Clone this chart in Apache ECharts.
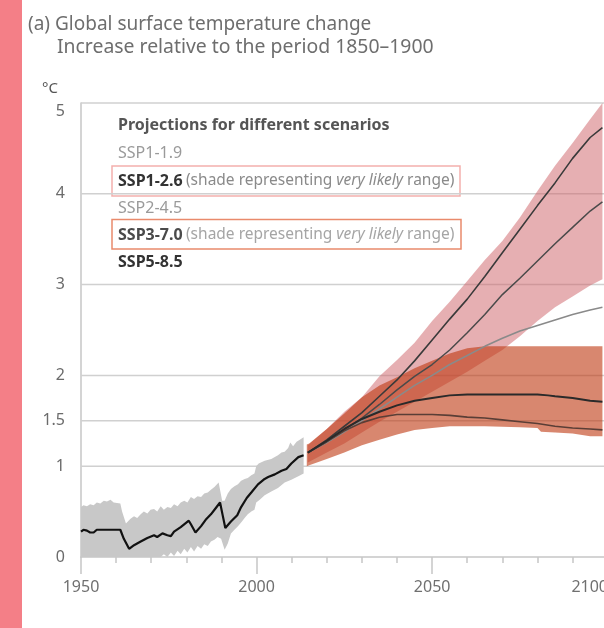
<!DOCTYPE html>
<html><head><meta charset="utf-8">
<script src="https://cdn.jsdelivr.net/npm/echarts@6/dist/echarts.min.js"></script>
<style>html,body{margin:0;padding:0;background:#fff;overflow:hidden;width:604px;height:628px}#c{width:611px;height:628px}</style>
</head><body><div id="c"></div>
<script>
// ---------- data ----------
const xMin = 1950, xMax = 2100;
const xLabelYears = [1950, 2000, 2050, 2100];
const xMinorTickYears = [1950, 1960, 1970, 1980, 1990, 2000, 2010, 2020, 2030, 2040, 2050, 2060, 2070, 2080, 2090, 2100];
const yLabelValues = [0, 1, 1.5, 2, 3, 4, 5];
const gridValues = [1, 1.5, 2, 3, 4, 5];

// historical (observed) line and shaded range
const histLine = [[1950,0.28],[1950.7,0.30],[1951.7,0.29],[1952.6,0.27],[1953.6,0.27],[1954.5,0.30],[1955.5,0.30],[1957.4,0.30],[1959.3,0.30],[1961.2,0.30],[1962.2,0.20],[1963.7,0.09],[1965.1,0.13],[1967.0,0.17],[1968.9,0.21],[1970.8,0.24],[1971.7,0.22],[1973.2,0.26],[1974.6,0.24],[1975.6,0.23],[1976.5,0.28],[1978.4,0.33],[1980.7,0.40],[1981.3,0.36],[1982.6,0.27],[1984.2,0.34],[1985.5,0.41],[1987.0,0.47],[1988.4,0.54],[1989.6,0.60],[1990.4,0.45],[1991.1,0.32],[1992.7,0.39],[1994.5,0.46],[1995.6,0.55],[1997.2,0.65],[1998.5,0.71],[2000.4,0.80],[2002.3,0.86],[2003.3,0.88],[2005.2,0.91],[2007.1,0.95],[2008.5,0.97],[2009.9,1.03],[2011.9,1.10],[2013.4,1.12]];
const histUpper = [[1950,0.55],[1950.7,0.57],[1951.7,0.56],[1952.6,0.58],[1953.6,0.57],[1954.5,0.60],[1955.5,0.59],[1956.5,0.62],[1957.4,0.61],[1958.4,0.63],[1959.3,0.60],[1961.2,0.59],[1961.7,0.50],[1962.8,0.37],[1964.1,0.42],[1965.1,0.45],[1966.0,0.43],[1967.0,0.47],[1967.9,0.50],[1968.9,0.48],[1969.8,0.52],[1970.8,0.53],[1971.7,0.50],[1972.7,0.56],[1973.6,0.52],[1974.6,0.55],[1975.6,0.54],[1976.5,0.58],[1977.5,0.56],[1978.4,0.60],[1979.4,0.62],[1980.3,0.60],[1981.3,0.66],[1982.2,0.64],[1983.2,0.67],[1984.2,0.66],[1985.1,0.70],[1986.1,0.71],[1987.0,0.74],[1988.0,0.77],[1989.2,0.82],[1990.2,0.62],[1990.9,0.62],[1991.8,0.70],[1992.7,0.75],[1993.7,0.78],[1994.7,0.80],[1995.6,0.84],[1996.6,0.86],[1997.5,0.87],[1998.5,0.90],[1999.4,0.92],[1999.9,1.00],[2000.6,1.03],[2002.3,1.06],[2004.2,1.08],[2005.2,1.10],[2006.1,1.12],[2007.1,1.15],[2008.0,1.16],[2009.0,1.20],[2009.6,1.26],[2010.4,1.22],[2011.4,1.27],[2012.3,1.29],[2013.4,1.32]];
const histLower = [[1950,0],[1972.7,0],[1973.6,0.03],[1974.6,0],[1975.6,0.05],[1976.5,0.01],[1977.5,0.07],[1978.4,0.03],[1979.4,0.09],[1980.3,0.05],[1981.3,0.11],[1982.2,0.06],[1983.2,0.12],[1984.2,0.09],[1985.1,0.14],[1986.1,0.12],[1987.0,0.17],[1988.0,0.19],[1988.9,0.22],[1989.9,0.20],[1990.9,0.08],[1991.8,0.15],[1992.7,0.26],[1993.7,0.30],[1994.7,0.34],[1995.6,0.38],[1996.6,0.43],[1997.5,0.47],[1998.5,0.50],[1999.4,0.52],[1999.9,0.60],[2000.9,0.63],[2002.3,0.68],[2004.2,0.72],[2006.1,0.76],[2008.0,0.82],[2009.9,0.85],[2011.9,0.89],[2013.4,0.92]];

// projections: very likely ranges
const pinkUpper = [[2014.6,1.23],[2020,1.41],[2025,1.60],[2030,1.76],[2035,1.99],[2040,2.17],[2045,2.36],[2050,2.60],[2055,2.81],[2060,3.04],[2065,3.27],[2070,3.48],[2075,3.74],[2080,4.03],[2085,4.31],[2090,4.56],[2095,4.82],[2098.5,5.0]];
const pinkLower = [[2014.6,1.04],[2020,1.15],[2025,1.25],[2030,1.37],[2035,1.49],[2040,1.60],[2045,1.71],[2050,1.82],[2055,1.93],[2060,2.04],[2065,2.16],[2070,2.28],[2075,2.43],[2080,2.60],[2085,2.75],[2090,2.87],[2095,2.99],[2098.5,3.06]];
const orangeUpper = [[2014.3,1.24],[2015,1.25],[2020,1.41],[2025,1.58],[2030,1.76],[2035,1.89],[2040,1.98],[2045,2.08],[2050,2.16],[2055,2.24],[2060,2.30],[2065,2.32],[2098.5,2.32]];
const orangeLower = [[2014.3,1.00],[2015,1.01],[2020,1.08],[2025,1.15],[2030,1.23],[2035,1.29],[2040,1.35],[2045,1.40],[2050,1.42],[2055,1.44],[2065,1.44],[2075,1.43],[2080,1.42],[2081,1.38],[2085,1.37],[2090,1.36],[2095,1.33],[2098.5,1.33]];

// projections: central lines
const ssp585 = [[2014.6,1.15],[2020,1.29],[2025,1.44],[2030,1.59],[2035,1.77],[2040,1.95],[2045,2.16],[2050,2.39],[2055,2.62],[2060,2.84],[2065,3.09],[2070,3.35],[2075,3.61],[2080,3.87],[2085,4.12],[2090,4.39],[2095,4.62],[2098.5,4.73]];
const ssp370 = [[2014.6,1.15],[2020,1.27],[2025,1.40],[2030,1.53],[2035,1.68],[2040,1.84],[2045,1.99],[2050,2.12],[2055,2.28],[2060,2.47],[2065,2.67],[2070,2.89],[2075,3.07],[2080,3.26],[2085,3.45],[2090,3.63],[2095,3.81],[2098.5,3.91]];
const ssp245 = [[2014.6,1.15],[2020,1.26],[2025,1.38],[2030,1.50],[2035,1.63],[2040,1.76],[2045,1.89],[2050,2.00],[2055,2.12],[2060,2.22],[2065,2.32],[2070,2.41],[2075,2.49],[2080,2.55],[2085,2.61],[2090,2.67],[2095,2.72],[2098.5,2.75]];
const ssp126 = [[2014.6,1.15],[2020,1.28],[2025,1.41],[2030,1.52],[2035,1.60],[2040,1.67],[2045,1.72],[2050,1.75],[2055,1.78],[2060,1.79],[2070,1.79],[2080,1.79],[2083,1.78],[2085,1.77],[2090,1.75],[2095,1.72],[2098.5,1.71]];
const ssp119 = [[2014.6,1.15],[2020,1.27],[2025,1.39],[2030,1.48],[2035,1.54],[2040,1.57],[2050,1.57],[2055,1.56],[2060,1.54],[2065,1.53],[2070,1.51],[2075,1.49],[2080,1.47],[2085,1.44],[2090,1.42],[2095,1.41],[2098.5,1.40]];

// ---------- chart ----------
const FONT = '"Noto Sans", "DejaVu Sans", sans-serif';
const chart = echarts.init(document.getElementById('c'), null, {renderer: 'canvas'});

function band(upper, lower, color, z) {
  return {
    type: 'custom', z: z, silent: true, data: upper, encode: {x: 0, y: 1},
    renderItem: function (params, api) {
      if (params.dataIndex !== 0) return null;
      const pts = [];
      for (let i = 0; i < upper.length; i++) pts.push(api.coord(upper[i]));
      for (let i = lower.length - 1; i >= 0; i--) pts.push(api.coord(lower[i]));
      return {type: 'polygon', shape: {points: pts}, style: {fill: color}};
    }
  };
}
function line(data, color, width, z) {
  return {type: 'line', data: data, z: z, silent: true, symbol: 'none', showSymbol: false,
    lineStyle: {color: color, width: width}};
}

const option = {
  animation: false,
  backgroundColor: '#ffffff',
  grid: {left: 81, right: 0, top: 103, bottom: 71, containLabel: false},
  xAxis: [{
    type: 'value', min: xMin, max: xMax,
    axisLine: {show: true, lineStyle: {color: '#c6c6c6', width: 1.5}},
    axisTick: {show: true, customValues: xLabelYears, length: 17, lineStyle: {color: '#c6c6c6', width: 1.5}},
    axisLabel: {customValues: xLabelYears, margin: 22, color: '#707070', fontSize: 16, fontFamily: FONT,
      formatter: function (v) { return v === 2100 ? '{r|' + v + '}' : String(v); },
      rich: {r: {padding: [0, 36, 0, 0], color: '#707070', fontSize: 16, fontFamily: FONT}}},
    splitLine: {show: false}
  }, {
    type: 'value', min: xMin, max: xMax, position: 'bottom', gridIndex: 0,
    axisLine: {show: false},
    axisTick: {show: true, customValues: xMinorTickYears, length: 6, lineStyle: {color: '#c6c6c6', width: 1.5}},
    axisLabel: {show: false}, splitLine: {show: false}
  }],
  yAxis: {
    type: 'value', min: 0, max: 5,
    axisLine: {show: true, lineStyle: {color: '#c6c6c6', width: 1.5}},
    axisTick: {show: false},
    axisLabel: {customValues: yLabelValues, margin: 16, color: '#6b6b6b', fontSize: 16, fontFamily: FONT,
      formatter: function (v) { return v === 5 ? '{t|5}' : String(v); },
      rich: {t: {padding: [16, 0, 0, 0], color: '#6b6b6b', fontSize: 16, fontFamily: FONT}}},
    splitLine: {show: false}
  },
  series: [
    {
      type: 'custom', z: 1, silent: true, data: gridValues.map(v => [xMin, v]), encode: {x: 0, y: 1},
      renderItem: function (params, api) {
        const cs = params.coordSys;
        const y = api.coord([api.value(0), api.value(1)])[1];
        return {type: 'line', shape: {x1: cs.x, y1: y, x2: cs.x + cs.width, y2: y},
          style: {stroke: '#d0d0d0', lineWidth: 1.5}};
      }
    },
    band(histUpper, histLower, '#c8c8c8', 2),
    band(pinkUpper, pinkLower, 'rgba(205,95,101,0.5)', 3),
    band(orangeUpper, orangeLower, 'rgba(190,55,15,0.6)', 4),
    line(histLine, '#111111', 2.2, 10),
    line(ssp245, '#8a8a8a', 1.6, 10),
    line(ssp370, '#4a4a4a', 1.5, 11),
    line(ssp585, '#3a3a3a', 1.6, 11),
    line(ssp119, '#5a3e36', 1.6, 11),
    line(ssp126, '#2a2a2a', 2, 12)
  ],
  graphic: [
    {type: 'rect', left: 0, top: 0, shape: {width: 22, height: 628}, style: {fill: '#f47f87'}, silent: true},
    {type: 'text', x: 28, y: 25, style: {text: '(a) Global surface temperature change', fill: '#6e6e6e',
      font: 'normal 19px ' + FONT, verticalAlign: 'middle', textVerticalAlign: 'middle'}},
    {type: 'text', x: 57, y: 47, style: {text: 'Increase relative to the period 1850–1900', fill: '#6e6e6e',
      font: 'normal 19.4px ' + FONT, verticalAlign: 'middle', textVerticalAlign: 'middle'}},
    {type: 'text', x: 42, y: 89, style: {text: '°C', fill: '#555555',
      font: 'normal 15px ' + FONT, verticalAlign: 'middle', textVerticalAlign: 'middle'}},
    {type: 'text', x: 118, y: 125, style: {text: 'Projections for different scenarios', fill: '#555555',
      font: 'bold 16px ' + FONT, verticalAlign: 'middle', textVerticalAlign: 'middle'}},
    {type: 'text', x: 118, y: 153, style: {text: 'SSP1-1.9', fill: '#9a9a9a',
      font: 'normal 16px ' + FONT, verticalAlign: 'middle', textVerticalAlign: 'middle'}},
    {type: 'text', x: 118, y: 181, style: {
      text: '{b|SSP1-2.6} {n|(shade representing }{i|very likely}{n| range)}',
      verticalAlign: 'middle', textVerticalAlign: 'middle',
      rich: {
        b: {font: 'bold 16px ' + FONT, fill: '#333333', color: '#333333'},
        n: {font: 'normal 15.5px ' + FONT, fill: '#8a8a8a', color: '#8a8a8a'},
        i: {font: 'italic 15.5px ' + FONT, fill: '#8a8a8a', color: '#8a8a8a'}
      }}},
    {type: 'text', x: 118, y: 208, style: {text: 'SSP2-4.5', fill: '#9a9a9a',
      font: 'normal 16px ' + FONT, verticalAlign: 'middle', textVerticalAlign: 'middle'}},
    {type: 'text', x: 118, y: 235, style: {
      text: '{b|SSP3-7.0} {n|(shade representing }{i|very likely}{n| range)}',
      verticalAlign: 'middle', textVerticalAlign: 'middle',
      rich: {
        b: {font: 'bold 16px ' + FONT, fill: '#4a4a4a', color: '#4a4a4a'},
        n: {font: 'normal 15.5px ' + FONT, fill: '#a5a5a5', color: '#a5a5a5'},
        i: {font: 'italic 15.5px ' + FONT, fill: '#a5a5a5', color: '#a5a5a5'}
      }}},
    {type: 'text', x: 118, y: 262, style: {text: 'SSP5-8.5', fill: '#333333',
      font: 'bold 16px ' + FONT, verticalAlign: 'middle', textVerticalAlign: 'middle'}},
    {type: 'rect', shape: {x: 112, y: 166, width: 348, height: 30},
      style: {fill: 'none', stroke: '#f4b0ad', lineWidth: 1.5}, silent: true},
    {type: 'rect', shape: {x: 112, y: 219.5, width: 349, height: 29.5},
      style: {fill: 'none', stroke: '#e98a6c', lineWidth: 1.5}, silent: true}
  ]
};
chart.setOption(option);
</script></body></html>
